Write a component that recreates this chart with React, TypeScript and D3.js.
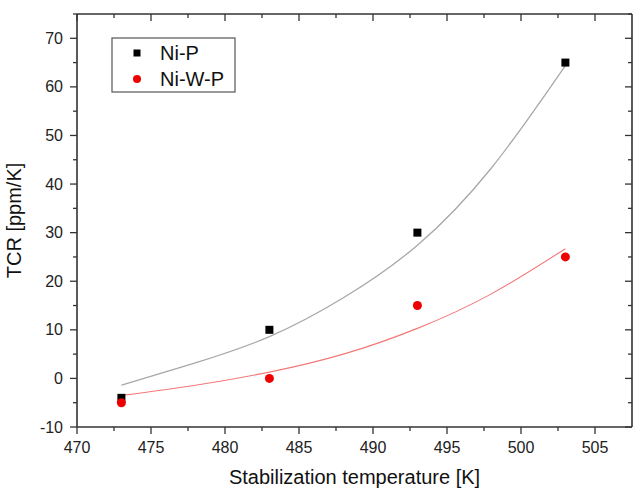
import React from 'react';
import * as d3 from 'd3';

// measured data points
const temps = [473, 483, 493, 503];
const niP = [-4, 10, 30, 65];
const niWP = [-5, 0, 15, 25];

// fitted curves
const fitTemps = [473, 478, 483, 488, 493, 498, 503];
const niPFit = [-1.4, 3.2, 8.6, 16.6, 27.4, 43.3, 64.4];
const niWPFit = [-3.5, -1.4, 1.3, 5.0, 10.3, 17.4, 26.7];

const xTicks = [470, 475, 480, 485, 490, 495, 500, 505];
const yTicks = [-10, 0, 10, 20, 30, 40, 50, 60, 70];

const W = 633;
const H = 490;
const margin = { top: 14, right: 1, bottom: 63, left: 77 };
const font = 'Arial, "Liberation Sans", Helvetica, sans-serif';
const axisColor = '#333';

const App = () => {
  const x = d3
    .scaleLinear()
    .domain([470, 507.5])
    .range([margin.left, W - margin.right]);
  const y = d3
    .scaleLinear()
    .domain([-10, 75])
    .range([H - margin.bottom, margin.top]);

  const [x0, x1] = x.range();
  const [y0, y1] = y.range();

  const xMinor = d3.range(470, 507.5, 2.5).filter(v => !xTicks.includes(v));
  const yMinor = d3.range(-10, 75.1, 5).filter(v => !yTicks.includes(v));

  const fitLine = d3
    .line<number>()
    .x((d, i) => x(fitTemps[i]))
    .y(d => y(d))
    .curve(d3.curveNatural);

  return (
    <svg
      width={W}
      height={H}
      style={{ position: 'absolute', left: 0, top: 0, background: '#fff' }}
      fontFamily={font}
    >
      {/* fit curves */}
      <path d={fitLine(niPFit) || ''} fill="none" stroke="#a8a8a8" strokeWidth={1.3} />
      <path d={fitLine(niWPFit) || ''} fill="none" stroke="#f27878" strokeWidth={1.1} />

      {/* points */}
      {temps.map((t, i) => (
        <rect key={'p' + i} x={x(t) - 4} y={y(niP[i]) - 4} width={8} height={8} fill="#000" />
      ))}
      {temps.map((t, i) => (
        <circle key={'w' + i} cx={x(t)} cy={y(niWP[i])} r={4.5} fill="#ee0000" />
      ))}

      {/* frame */}
      <g stroke={axisColor} strokeWidth={1.6} fill="none">
        <line x1={x0} x2={x1} y1={y0} y2={y0} />
        <line x1={x0} x2={x1} y1={y1} y2={y1} />
        <line x1={x0} x2={x0} y1={y0} y2={y1} />
        <line x1={x1} x2={x1} y1={y0} y2={y1} />
      </g>

      {/* x ticks: bottom outward, top inward */}
      <g stroke={axisColor} strokeWidth={1.3}>
        {xTicks.map(v => (
          <React.Fragment key={'xt' + v}>
            <line x1={x(v)} x2={x(v)} y1={y0} y2={y0 + 7} />
            <line x1={x(v)} x2={x(v)} y1={y1} y2={y1 + 7} />
          </React.Fragment>
        ))}
        {xMinor.map(v => (
          <React.Fragment key={'xm' + v}>
            <line x1={x(v)} x2={x(v)} y1={y0} y2={y0 + 4} />
            <line x1={x(v)} x2={x(v)} y1={y1} y2={y1 + 4} />
          </React.Fragment>
        ))}
      </g>
      {/* y ticks: left outward, right inward */}
      <g stroke={axisColor} strokeWidth={1.3}>
        {yTicks.map(v => (
          <React.Fragment key={'yt' + v}>
            <line x1={x0} x2={x0 - 7} y1={y(v)} y2={y(v)} />
            <line x1={x1} x2={x1 - 7} y1={y(v)} y2={y(v)} />
          </React.Fragment>
        ))}
        {yMinor.map(v => (
          <React.Fragment key={'ym' + v}>
            <line x1={x0} x2={x0 - 4} y1={y(v)} y2={y(v)} />
            <line x1={x1} x2={x1 - 4} y1={y(v)} y2={y(v)} />
          </React.Fragment>
        ))}
      </g>

      {/* tick labels */}
      <g fontSize={16} fill="#222">
        {xTicks.map(v => (
          <text key={'xl' + v} x={x(v)} y={y0 + 26} textAnchor="middle">
            {v}
          </text>
        ))}
        {yTicks.map(v => (
          <text key={'yl' + v} x={x0 - 14} y={y(v)} textAnchor="end" dominantBaseline="central">
            {v}
          </text>
        ))}
      </g>

      {/* axis titles */}
      <text x={(x0 + x1) / 2} y={484} textAnchor="middle" fontSize={20} fill="#111">
        Stabilization temperature [K]
      </text>
      <text
        transform={`translate(21, ${(y0 + y1) / 2}) rotate(-90)`}
        textAnchor="middle"
        fontSize={20}
        fill="#111"
      >
        TCR [ppm/K]
      </text>

      {/* legend */}
      <g>
        <rect x={112} y={38} width={123} height={54} fill="#fff" stroke="#555" strokeWidth={1.2} />
        <rect x={133.5} y={49.5} width={7} height={7} fill="#000" />
        <text x={160} y={53} fontSize={20} dominantBaseline="central" fill="#111">
          Ni-P
        </text>
        <circle cx={137} cy={79} r={4} fill="#ee0000" />
        <text x={160} y={79} fontSize={20} dominantBaseline="central" fill="#111">
          Ni-W-P
        </text>
      </g>
    </svg>
  );
};

export default App;
